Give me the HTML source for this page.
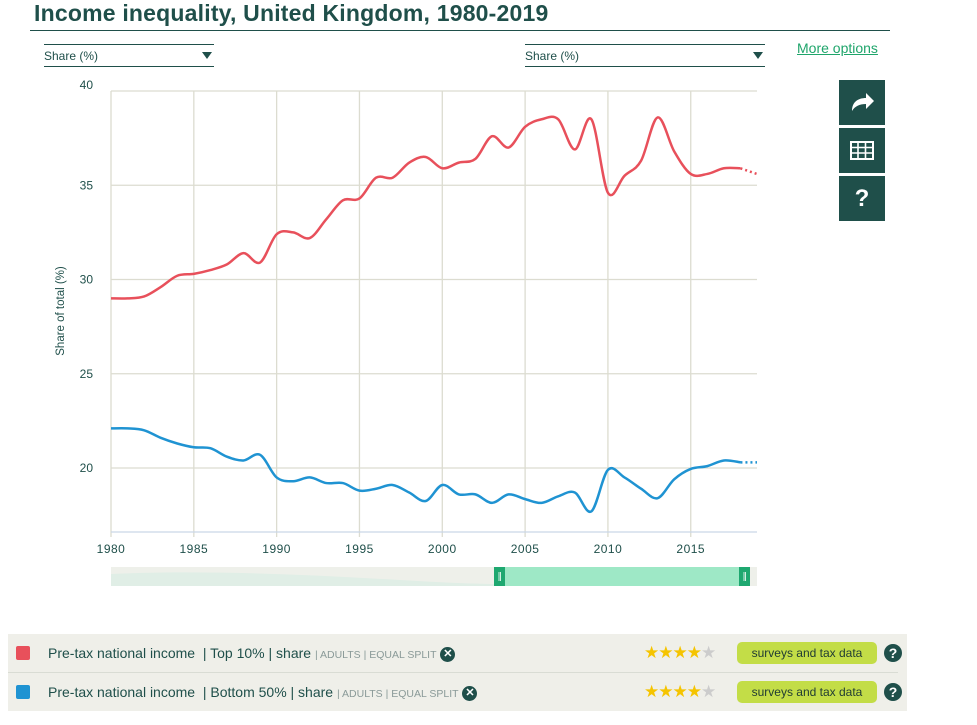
<!DOCTYPE html>
<html><head><meta charset="utf-8">
<style>
body{margin:0;width:977px;height:725px;background:#fff;font-family:"Liberation Sans",sans-serif;position:relative;overflow:hidden;color:#1f4f4a}
.abs{position:absolute}
.title{left:34px;top:0px;font-size:23px;font-weight:bold;letter-spacing:0.2px;color:#1f4f4a}
.rule{left:30px;top:30px;width:860px;height:1px;background:#1f4f4a}
.sel{border-top:1px solid #1f4f4a;border-bottom:1px solid #1f4f4a;height:21px;font-size:12px;line-height:22px;color:#1f4f4a}
.sel .tri{position:absolute;right:2px;top:7px;width:0;height:0;border-left:5px solid transparent;border-right:5px solid transparent;border-top:7px solid #1f4f4a}
.more{left:797px;top:40px;font-size:14px;color:#1fa56b;text-decoration:underline}
.btn{left:839px;width:46px;height:45px;background:#1f4f4a;color:#fff;text-align:center}
.legend{left:8px;top:634px;width:899px;height:77px;background:#efefe9}
.row{position:absolute;left:0;width:899px;height:38px;font-size:14px;line-height:38px}
.sw{position:absolute;left:8px;top:12px;width:14px;height:14px;border-radius:2px}
.sm{font-size:10.5px;color:#8a9a98}
.x{display:inline-block;width:15px;height:15px;border-radius:50%;background:#1f4f4a;color:#fff;font-size:11px;line-height:15px;text-align:center;font-weight:bold;vertical-align:middle}
.stars{position:absolute;left:636px;font-size:17px;color:#f5c400;letter-spacing:-1px}
.tag{position:absolute;left:729px;top:8px;width:140px;height:22px;border-radius:5px;background:#c3dd47;font-size:12px;line-height:22px;text-align:center;color:#1f3a33}
.q{position:absolute;left:876px;top:10px;width:18px;height:18px;border-radius:50%;background:#1f4f4a;color:#fff;font-weight:bold;font-size:14px;line-height:18px;text-align:center}
</style></head><body>
<div class="abs title">Income inequality, United Kingdom, 1980-2019</div>
<div class="abs rule"></div>
<div class="abs sel" style="left:44px;top:44px;width:170px">Share (%)<span class="tri"></span></div>
<div class="abs sel" style="left:525px;top:44px;width:240px">Share (%)<span class="tri"></span></div>
<div class="abs more">More options</div>
<div class="abs btn" style="top:80px"><svg width="46" height="45"><path d="M13 31 C13 22 19 18 27 18 L27 13 L35 21 L27 29 L27 24 C21 24 16 26 13 31Z" fill="#fff"/></svg></div>
<div class="abs btn" style="top:128px"><svg width="46" height="45"><rect x="12" y="14" width="22" height="17" fill="none" stroke="#fff" stroke-width="2"/><path d="M12 19.5H34M12 25H34M19 14V31M26.5 14V31" stroke="#fff" stroke-width="1.6"/></svg></div>
<div class="abs btn" style="top:176px;font-size:24px;font-weight:bold;line-height:45px">?</div>

<svg class="abs" style="left:0;top:0" width="977" height="600" id="chart">
<g id="grid"></g><g id="lines"></g>
<text transform="translate(64,311) rotate(-90)" text-anchor="middle" font-size="11.5" fill="#1f4f4a">Share of total (%)</text>
<g>
<rect x="111" y="567" width="646" height="19" fill="#eef0ea"/>
<path d="M111 574 C200 570 300 574 400 580 C450 583 480 584 497 584 L497 586 L111 586Z" fill="#e0eee6"/>
<rect x="497" y="567" width="248" height="19" fill="#9ee8c6"/>
<rect x="494" y="567" width="11" height="19" fill="#1ea870"/>
<rect x="739" y="567" width="11" height="19" fill="#1ea870"/>
<path d="M499 572V581M500.5 572V581M744 572V581M745.5 572V581" stroke="#fff" stroke-width="0.8"/>
</g>
</svg>

<div class="abs legend">
<div class="row" style="top:0;border-bottom:1px solid #d9dcd4;width:890px">
<span class="sw" style="background:#e8505b"></span>
<span style="position:absolute;left:40px">Pre-tax national income &nbsp;| Top 10% | share <span class="sm">| ADULTS | EQUAL SPLIT</span> <span class="x">✕</span></span>
<span class="stars">★★★★<span style="color:#ccc">★</span></span>
<span class="tag">surveys and tax data</span>
<span class="q">?</span>
</div>
<div class="row" style="top:39px">
<span class="sw" style="background:#1f93d2"></span>
<span style="position:absolute;left:40px">Pre-tax national income &nbsp;| Bottom 50% | share <span class="sm">| ADULTS | EQUAL SPLIT</span> <span class="x">✕</span></span>
<span class="stars">★★★★<span style="color:#ccc">★</span></span>
<span class="tag">surveys and tax data</span>
<span class="q">?</span>
</div>
</div>

<script>
const years=[1980,1981,1982,1983,1984,1985,1986,1987,1988,1989,1990,1991,1992,1993,1994,1995,1996,1997,1998,1999,2000,2001,2002,2003,2004,2005,2006,2007,2008,2009,2010,2011,2012,2013,2014,2015,2016,2017,2018,2019];
const top10=[29.0,29.0,29.1,29.6,30.2,30.3,30.5,30.8,31.4,30.9,32.4,32.5,32.2,33.2,34.2,34.3,35.4,35.4,36.2,36.5,35.9,36.2,36.4,37.6,37.0,38.1,38.5,38.5,36.9,38.5,34.6,35.5,36.3,38.6,36.8,35.6,35.6,35.9,35.9,35.6];
const bottom50=[22.1,22.1,22.0,21.6,21.3,21.1,21.05,20.6,20.4,20.7,19.5,19.3,19.5,19.2,19.2,18.8,18.9,19.1,18.7,18.25,19.1,18.6,18.6,18.15,18.6,18.35,18.15,18.5,18.7,17.7,19.9,19.5,18.9,18.4,19.4,19.95,20.1,20.4,20.3,20.3];
const yTicks=[20,25,30,35,40];
const xTicks=[1980,1985,1990,1995,2000,2005,2010,2015];
const X=y=>111+(y-1980)*(757-111)/39;
const Y=v=>91+(40-v)*18.85;
const ns="http://www.w3.org/2000/svg";
function mk(t,a,p){const e=document.createElementNS(ns,t);for(const k in a)e.setAttribute(k,a[k]);p.appendChild(e);return e;}
const grid=document.getElementById('grid'),lines=document.getElementById('lines');
yTicks.forEach(v=>{
  const l=mk('line',{x1:111,x2:757,y1:Y(v),y2:Y(v),stroke:'#dcdcd0','stroke-width':1.3},grid);
  
  
  const t=mk('text',{x:93,y:Y(v)+(v==40?-2:4),'text-anchor':'end','font-size':12,fill:'#1f4f4a'},grid);t.textContent=v;
  
  
});
xTicks.forEach(yr=>{
  const l=mk('line',{x1:X(yr),x2:X(yr),y1:91,y2:537,stroke:'#dcdcd0','stroke-width':1.3},grid);
  
  
  const t=mk('text',{x:X(yr),y:553,'text-anchor':'middle','font-size':12,fill:'#1f4f4a','letter-spacing':'0.5'},grid);t.textContent=yr;
  
  
});
const ax=mk('line',{x1:111,x2:757,y1:532,y2:532,stroke:'#c9d6e8','stroke-width':1.3},grid);


function smooth(pts){let d=`M${pts[0][0]},${pts[0][1]}`;for(let i=0;i<pts.length-1;i++){const p0=pts[Math.max(0,i-1)],p1=pts[i],p2=pts[i+1],p3=pts[Math.min(pts.length-1,i+2)];const c1=[p1[0]+(p2[0]-p0[0])/6,p1[1]+(p2[1]-p0[1])/6],c2=[p2[0]-(p3[0]-p1[0])/6,p2[1]-(p3[1]-p1[1])/6];d+=` C${c1[0]},${c1[1]} ${c2[0]},${c2[1]} ${p2[0]},${p2[1]}`;}return d;}
function draw(vals,col,name){
  const pts=vals.map((v,i)=>[X(years[i]),Y(v)]);
  const n=pts.length;
  const p=mk('path',{d:smooth(pts.slice(0,n-1)),fill:'none',stroke:col,'stroke-width':2.5},lines);
  
  
  const q=mk('path',{d:`M${pts[n-2][0]},${pts[n-2][1]} L${pts[n-1][0]},${pts[n-1][1]}`,fill:'none',stroke:col,'stroke-width':2.5,'stroke-dasharray':'2,3'},lines);
  
  
}
draw(top10,'#e8505b','top10');
draw(bottom50,'#1f93d2','bottom50');
</script>
</body></html>
